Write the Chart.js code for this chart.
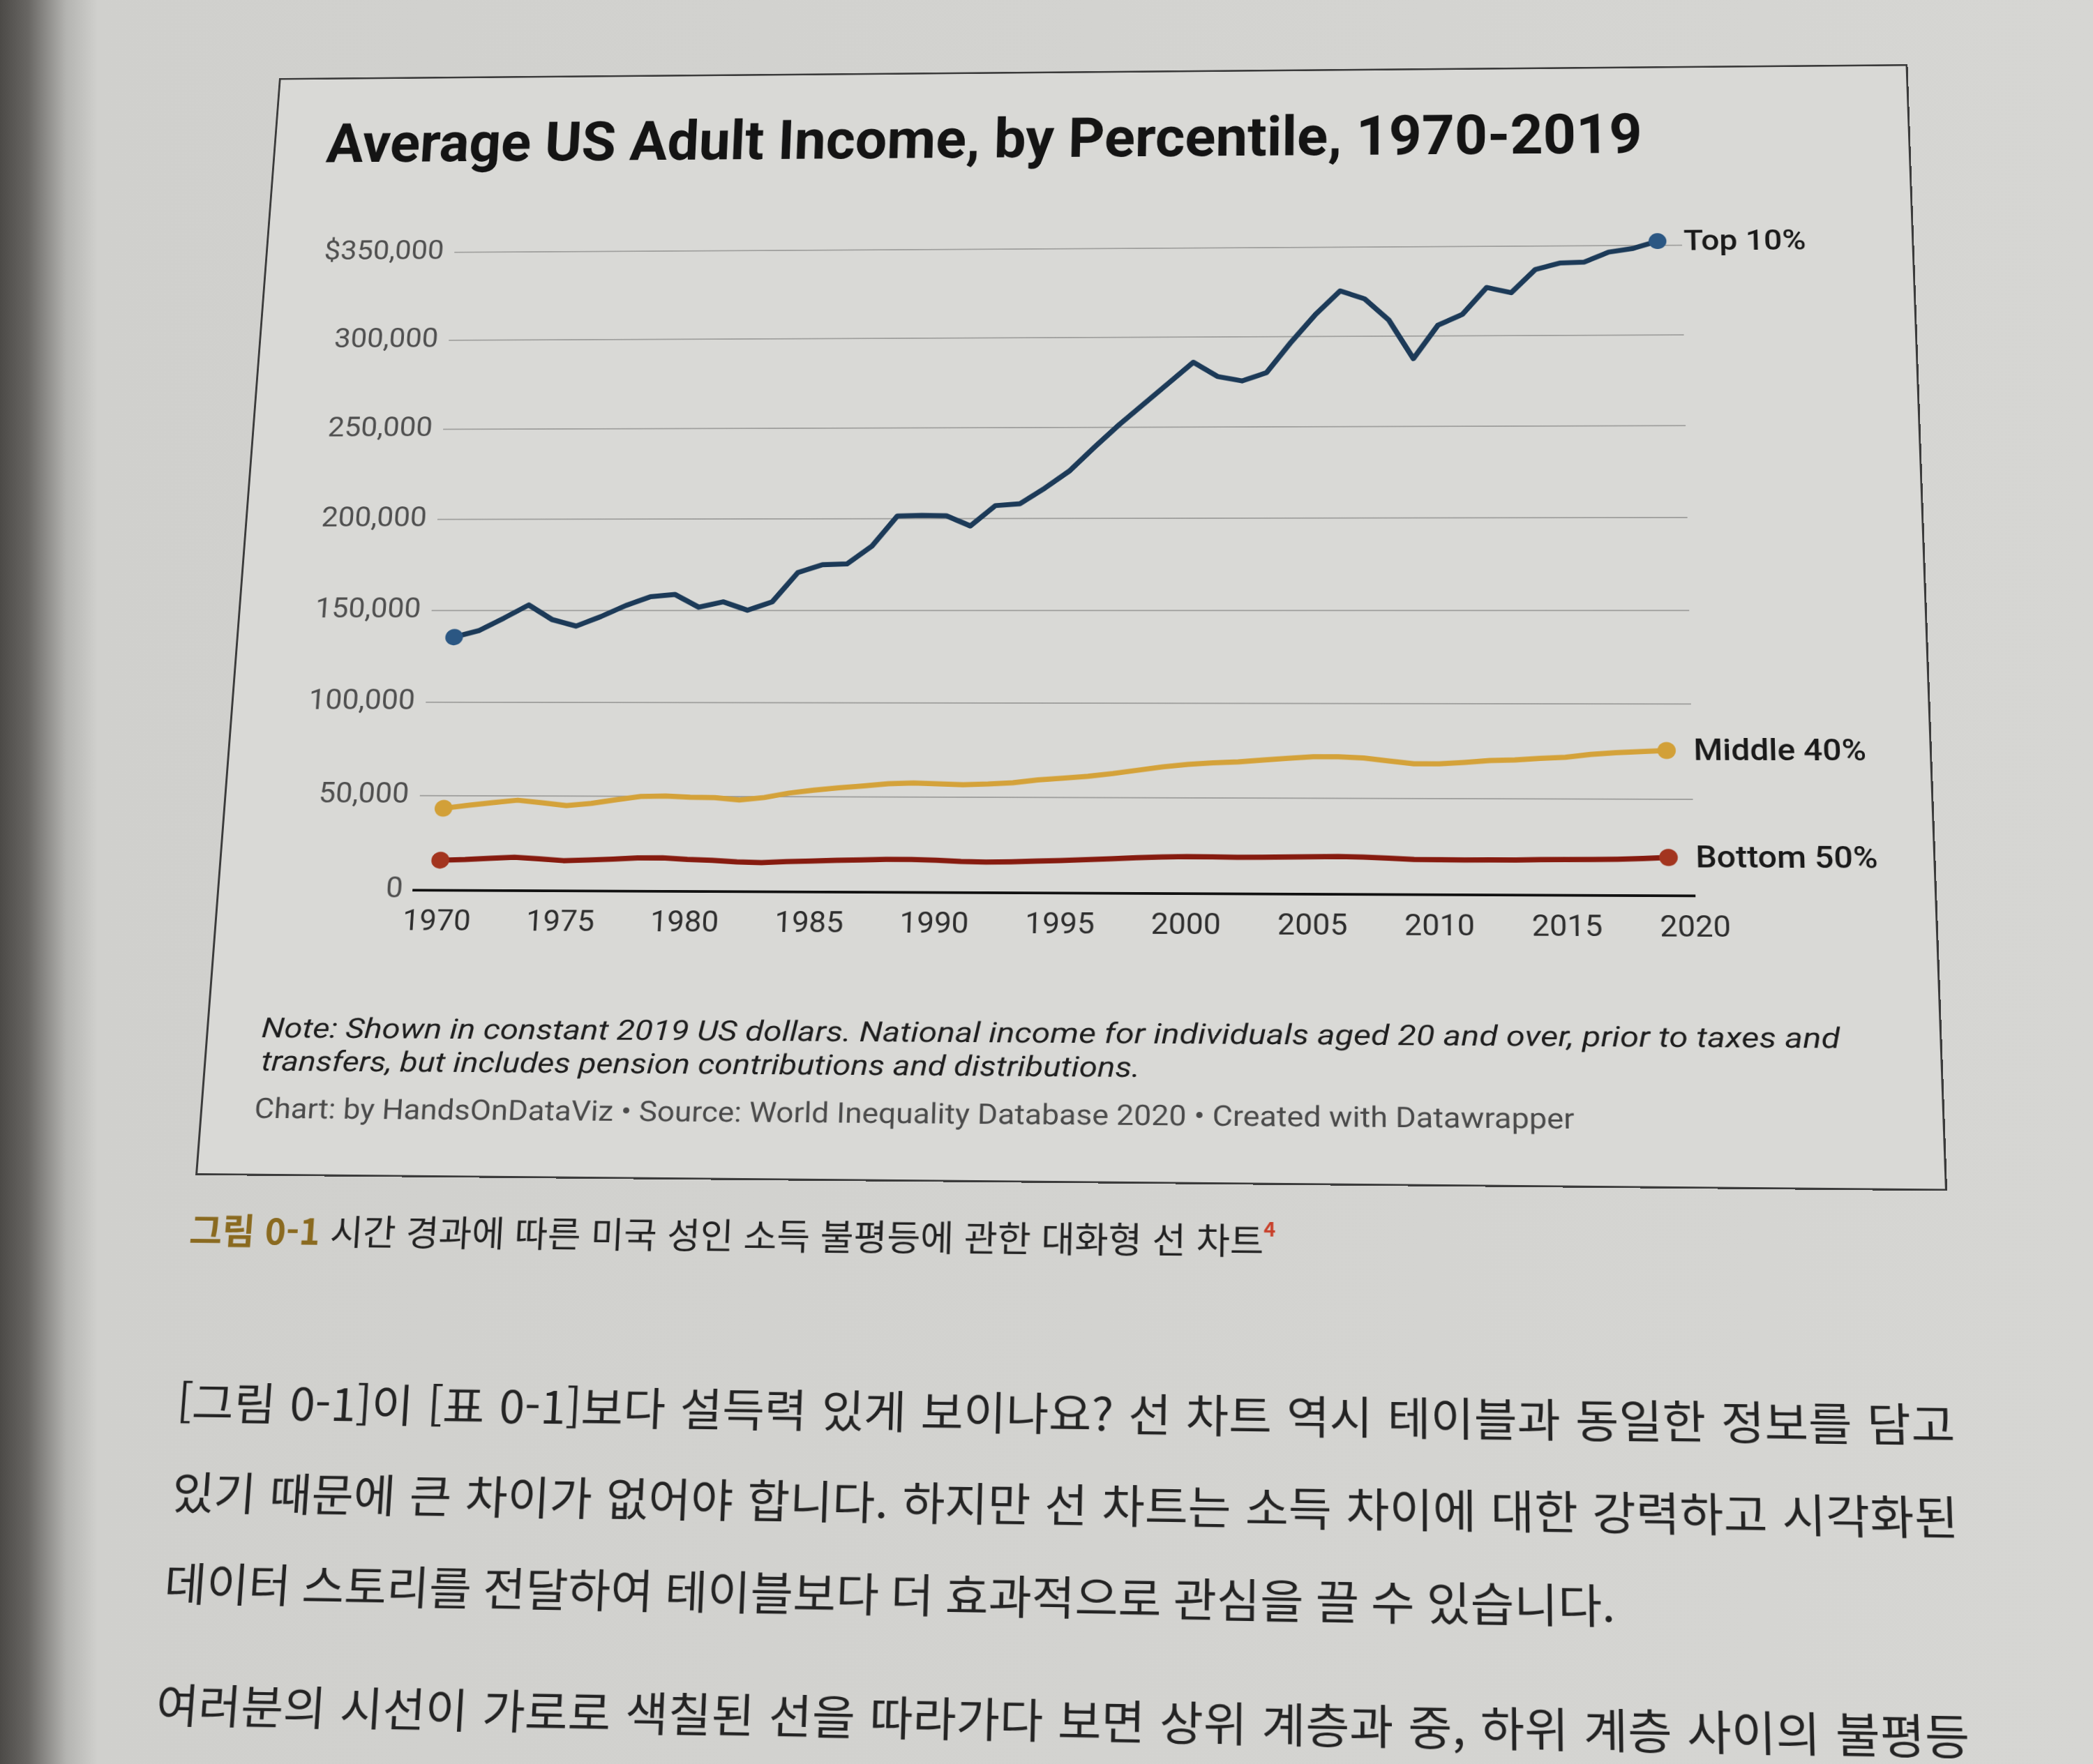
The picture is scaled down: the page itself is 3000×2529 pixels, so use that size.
<!DOCTYPE html>
<html lang="ko">
<head>
<meta charset="utf-8">
<title>Average US Adult Income, by Percentile, 1970-2019</title>
<script src="https://cdn.jsdelivr.net/npm/chart.js@4.4.1/dist/chart.umd.min.js"></script>
<style>
  html, body { margin: 0; padding: 0; }
  body {
    width: 3000px; height: 2529px; overflow: hidden; position: relative;
    background: linear-gradient(to right, #4c4a47 0px, #686663 40px, #b4b4b1 95px, #d0d0cd 140px, #d6d6d3 100%);
    font-family: Roboto, "Noto Sans", sans-serif;
  }
  #sheet { position: absolute; left: 0; top: 0; width: 3000px; height: 3000px; transform-origin: 0 0; }
  #frame { position: absolute; border: 3px solid #3b3b3b; box-sizing: border-box; background: #d9d9d6; }
  #chartBox { position: absolute; }
  .t { position: absolute; white-space: nowrap; transform-origin: 0 50%; }
  .ko { font-family: "Noto Sans CJK KR", "Noto Sans", sans-serif; }
</style>
</head>
<body>
<div id="sheet">
  <div id="frame"></div>
  <div id="chartBox"><canvas id="chart"></canvas></div>
</div>
<script>
// ---- data ----
const years = [1970, 1971, 1972, 1973, 1974, 1975, 1976, 1977, 1978, 1979,
               1980, 1981, 1982, 1983, 1984, 1985, 1986, 1987, 1988, 1989,
               1990, 1991, 1992, 1993, 1994, 1995, 1996, 1997, 1998, 1999,
               2000, 2001, 2002, 2003, 2004, 2005, 2006, 2007, 2008, 2009,
               2010, 2011, 2012, 2013, 2014, 2015, 2016, 2017, 2018, 2019];

const top10 = [135400, 138900, 145700, 152900, 144900, 141400, 146600, 152600, 157400, 158600,
               151700, 154600, 150000, 154600, 170500, 174800, 175200, 185000, 201400, 201700,
               201500, 195900, 207000, 208000, 216500, 226000, 239000, 251500, 263000, 274500,
               286000, 278000, 275500, 280000, 297000, 312500, 325500, 321000, 309000, 287500,
               306000, 312000, 327000, 324000, 337000, 340500, 341000, 346500, 348500, 352500];

const middle40 = [43400, 45000, 46500, 47800, 46500, 45000, 46200, 48200, 50000, 50200,
                  49600, 49500, 48300, 49600, 52000, 53600, 54900, 55900, 57100, 57500,
                  57100, 56700, 57100, 57800, 59300, 60300, 61300, 62800, 64600, 66400,
                  67700, 68600, 69100, 70100, 71100, 71900, 71900, 71300, 69800, 68300,
                  68300, 69100, 70100, 70500, 71300, 71900, 73500, 74400, 75000, 75600];

const bottom50 = [15900, 16300, 17000, 17600, 16800, 15900, 16300, 16800, 17500, 17600,
                  16800, 16400, 15600, 15300, 15900, 16200, 16600, 16900, 17200, 17200,
                  16900, 16300, 16000, 16200, 16600, 17000, 17500, 18000, 18600, 19000,
                  19300, 19200, 19000, 19100, 19300, 19500, 19600, 19400, 18900, 18300,
                  18200, 18100, 18200, 18200, 18400, 18500, 18600, 18800, 19200, 19800];

const seriesNames = ['Top 10%', 'Middle 40%', 'Bottom 50%'];
const yTicks = [0, 50000, 100000, 150000, 200000, 250000, 300000, 350000];
const yTickLabels = ['0', '50,000', '100,000', '150,000', '200,000', '250,000', '300,000', '$350,000'];
const xTicks = [1970, 1975, 1980, 1985, 1990, 1995, 2000, 2005, 2010, 2015, 2020];

const titleText = 'Average US Adult Income, by Percentile, 1970-2019';
const noteLines = ['Note: Shown in constant 2019 US dollars. National income for individuals aged 20 and over, prior to taxes and',
                   'transfers, but includes pension contributions and distributions.'];
const creditText = 'Chart: by HandsOnDataViz \u2022 Source: World Inequality Database 2020 \u2022 Created with Datawrapper';
const captionHtml = '<span style="color:#8a6a20;font-weight:700">그림 0-1</span> 시간 경과에 따른 미국 성인 소득 불평등에 관한 대화형 선 차트<sup style="color:#c8402a;font-size:0.55em;font-weight:700;vertical-align:0.9em">4</sup>';
const bodyLines = ['[그림 0-1]이 [표 0-1]보다 설득력 있게 보이나요? 선 차트 역시 테이블과 동일한 정보를 담고',
                   '있기 때문에 큰 차이가 없어야 합니다. 하지만 선 차트는 소득 차이에 대한 강력하고 시각화된',
                   '데이터 스토리를 전달하여 테이블보다 더 효과적으로 관심을 끌 수 있습니다.',
                   '여러분의 시선이 가로로 색칠된 선을 따라가다 보면 상위 계층과 중, 하위 계층 사이의 불평등'];

// ---- page perspective: the photographed page is tilted, map a flat sheet onto it ----
const flatFrame = [[340, 100], [2790, 100], [340, 1850], [2790, 1850]];
const photoFrame = [[400, 112], [2735, 92], [280, 1685], [2792, 1708]];

function solveHomography(src, dst) {
  const A = [], b = [];
  for (let i = 0; i < 4; i++) {
    const [x, y] = src[i], [X, Y] = dst[i];
    A.push([x, y, 1, 0, 0, 0, -x * X, -y * X]); b.push(X);
    A.push([0, 0, 0, x, y, 1, -x * Y, -y * Y]); b.push(Y);
  }
  for (let c = 0; c < 8; c++) {
    let p = c;
    for (let r = c + 1; r < 8; r++) if (Math.abs(A[r][c]) > Math.abs(A[p][c])) p = r;
    [A[c], A[p]] = [A[p], A[c]]; [b[c], b[p]] = [b[p], b[c]];
    for (let r = 0; r < 8; r++) {
      if (r === c) continue;
      const f = A[r][c] / A[c][c];
      for (let k = c; k < 8; k++) A[r][k] -= f * A[c][k];
      b[r] -= f * b[c];
    }
  }
  const h = b.map((v, i) => v / A[i][i]);
  return [h[0], h[1], h[2], h[3], h[4], h[5], h[6], h[7], 1];
}

function invert3(m) {
  const [a, b, c, d, e, f, g, h, i] = m;
  const A = e * i - f * h, B = -(d * i - f * g), C = d * h - e * g;
  const det = a * A + b * B + c * C;
  return [A / det, -(b * i - c * h) / det, (b * f - c * e) / det,
          B / det, (a * i - c * g) / det, -(a * f - c * d) / det,
          C / det, -(a * h - b * g) / det, (a * e - b * d) / det];
}

const H = solveHomography(flatFrame, photoFrame);
const Hinv = invert3(H);
function toFlat(X, Y) {
  const x = Hinv[0] * X + Hinv[1] * Y + Hinv[2];
  const y = Hinv[3] * X + Hinv[4] * Y + Hinv[5];
  const w = Hinv[6] * X + Hinv[7] * Y + Hinv[8];
  return [x / w, y / w];
}

const sheet = document.getElementById('sheet');
sheet.style.transform = `matrix3d(${H[0]},${H[3]},0,${H[6]},${H[1]},${H[4]},0,${H[7]},0,0,1,0,${H[2]},${H[5]},0,1)`;

const frame = document.getElementById('frame');
frame.style.left = flatFrame[0][0] + 'px';
frame.style.top = flatFrame[0][1] + 'px';
frame.style.width = (flatFrame[1][0] - flatFrame[0][0]) + 'px';
frame.style.height = (flatFrame[2][1] - flatFrame[0][1]) + 'px';

// text line placed by its left edge and vertical centre in photo pixels
function place(html, px, pcy, size, opts = {}) {
  const el = document.createElement('div');
  el.className = 't' + (opts.ko ? ' ko' : '');
  el.innerHTML = html;
  el.style.fontSize = size + 'px';
  el.style.lineHeight = size + 'px';
  el.style.height = size + 'px';
  if (opts.weight) el.style.fontWeight = opts.weight;
  if (opts.italic) el.style.fontStyle = 'italic';
  el.style.color = opts.color || '#1c1c1c';
  const [fx, fy] = toFlat(px, pcy);
  el.style.left = fx + 'px';
  el.style.top = (fy - size / 2 + (opts.dy || 0) * size) + 'px';
  sheet.appendChild(el);
  if (opts.right) {
    const target = toFlat(opts.right, pcy)[0] - fx;
    const natural = el.offsetWidth;
    if (opts.spread) {
      const gaps = (el.textContent.match(/ /g) || []).length;
      el.style.wordSpacing = ((target - natural) / gaps) + 'px';
    } else {
      el.style.transform = `scaleX(${target / natural})`;
    }
  }
  return el;
}

place(titleText, 468, 206, 92, { weight: 700, color: '#141414', right: 2354 });
place(noteLines[0], 375, 1474, 42, { italic: true, color: '#1e1e1e', right: 2638 });
place(noteLines[1], 375, 1522, 42, { italic: true, color: '#1e1e1e', right: 1635 });
place(creditText, 365, 1589, 42, { color: '#4a4a4a', right: 2257 });
place(captionHtml, 273, 1750, 52, { ko: true, color: '#222', dy: -0.07, right: 1829 });
const bodyLeft = [254, 247, 236, 224];
const bodyRight = [2802, 2806, 2315, 2822];
const bodyY = [2011, 2140, 2270, 2445];
bodyLines.forEach((s, i) => {
  place(s, bodyLeft[i], bodyY[i], 64, { ko: true, color: '#242424', dy: -0.07, right: bodyRight[i], spread: true });
});

// ---- chart placement: plot corners as seen in the photo ----
const pTL = toFlat(651, 362), pTR = toFlat(2415, 347), pBL = toFlat(594, 1277), pBR = toFlat(2427, 1283);
const plotL = (pTL[0] + pBL[0]) / 2, plotR = (pTR[0] + pBR[0]) / 2;
const plotT = (pTL[1] + pTR[1]) / 2, plotB = (pBL[1] + pBR[1]) / 2;
const yAxisW = 260, xAxisH = 100, padTop = 40, padRight = 320;
const boxL = plotL - yAxisW, boxT = plotT - padTop;
const boxW = plotR + padRight - boxL, boxH = plotB + xAxisH - boxT;
const box = document.getElementById('chartBox');
box.style.left = boxL + 'px';
box.style.top = boxT + 'px';
const canvas = document.getElementById('chart');
canvas.width = Math.round(boxW);
canvas.height = Math.round(boxH);
canvas.style.width = Math.round(boxW) + 'px';
canvas.style.height = Math.round(boxH) + 'px';

Chart.defaults.font.family = 'Roboto, "Noto Sans", sans-serif';

const lineColors = ['#1c3a58', '#d4a23a', '#861b0f'];
const dotColors = ['#2b5783', '#d2a038', '#a3351f'];
const seriesValues = [top10, middle40, bottom50];

const endLabels = {
  id: 'endLabels',
  afterDatasetsDraw(chart) {
    const ctx = chart.ctx;
    ctx.save();
    ctx.font = '500 47px Roboto';
    ctx.fillStyle = '#1a1a1a';
    ctx.textBaseline = 'middle';
    chart.data.datasets.forEach((ds, i) => {
      const pts = chart.getDatasetMeta(i).data;
      const p = pts[pts.length - 1];
      ctx.fillText(ds.label, p.x + 38, p.y + 3);
    });
    ctx.restore();
  }
};

new Chart(canvas, {
  type: 'line',
  data: {
    datasets: seriesValues.map((vals, i) => ({
      label: seriesNames[i],
      data: years.map((yr, j) => ({ x: yr, y: vals[j] })),
      borderColor: lineColors[i],
      pointBackgroundColor: dotColors[i],
      pointRadius: c => (c.dataIndex === 0 || c.dataIndex === years.length - 1) ? 13 : 0,
      clip: false
    }))
  },
  options: {
    responsive: false,
    animation: false,
    devicePixelRatio: 1,
    layout: { padding: { top: padTop, right: padRight, left: 0, bottom: 0 } },
    plugins: { legend: { display: false }, tooltip: { enabled: false } },
    elements: {
      line: { tension: 0, borderWidth: 8, borderCapStyle: 'round', borderJoinStyle: 'round' },
      point: { borderWidth: 0, hoverRadius: 0 }
    },
    scales: {
      x: {
        type: 'linear', min: 1969, max: 2020,
        afterBuildTicks: s => { s.ticks = xTicks.map(v => ({ value: v })); },
        afterFit: s => { s.height = xAxisH; },
        grid: { color: 'rgba(0,0,0,0)', drawTicks: false },
        border: { display: true, color: '#111111', width: 4 },
        ticks: { autoSkip: false, maxRotation: 0, padding: 24, color: '#2e2e2e', font: { size: 44 },
                 callback: v => String(v) }
      },
      y: {
        min: 0, max: 350000,
        afterBuildTicks: s => { s.ticks = yTicks.map(v => ({ value: v })); },
        afterFit: s => { s.width = yAxisW; },
        grid: { color: c => (c.tick && c.tick.value === 0) ? 'rgba(0,0,0,0)' : '#a0a09e', lineWidth: 2, drawTicks: false },
        border: { display: false },
        ticks: { padding: 16, color: '#4f4f4f', font: { size: 44 },
                 callback: v => yTickLabels[yTicks.indexOf(v)] }
      }
    }
  },
  plugins: [endLabels]
});
</script>
</body>
</html>
